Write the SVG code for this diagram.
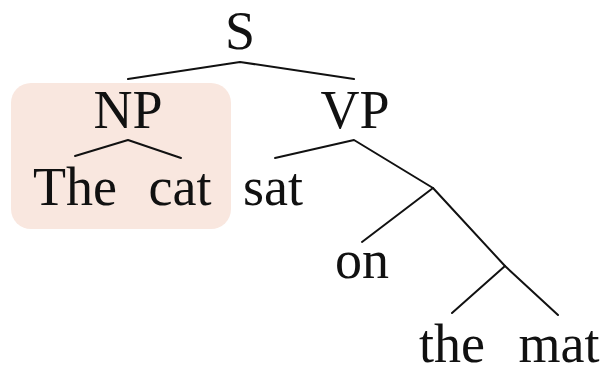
<svg xmlns="http://www.w3.org/2000/svg" width="605" height="366" viewBox="0 0 605 366">
  <style>
    .lbl { font-family: "Liberation Serif", "DejaVu Serif", serif; font-size: 54px; fill: #111; text-anchor: middle; }
    .edge { stroke: #111; stroke-width: 2; fill: none; stroke-linecap: round; stroke-linejoin: round; }
  </style>
  <rect width="605" height="366" fill="#ffffff"/>
  <!-- highlight behind the noun phrase -->
  <rect id="np-highlight" x="11" y="83" width="220" height="146" rx="20" ry="20" fill="#f9e7df"/>
  <g id="edges">
    <polyline class="edge" points="128,79 240,62 354,79"/>
    <polyline class="edge" points="75,156 128,140 181,158"/>
    <polyline class="edge" points="275,158 354,140 433,188"/>
    <polyline class="edge" points="362,242 433,188 505,266"/>
    <polyline class="edge" points="452,313 505,266 558,315"/>
  </g>
  <g id="node-S"><text class="lbl" x="240" y="49">S</text></g>
  <g id="node-NP"><text class="lbl" x="128" y="128">NP</text></g>
  <g id="node-VP"><text class="lbl" x="355" y="128">VP</text></g>
  <g id="node-The"><text class="lbl" x="75" y="205">The</text></g>
  <g id="node-cat"><text class="lbl" x="180" y="205">cat</text></g>
  <g id="node-sat"><text class="lbl" x="273" y="205">sat</text></g>
  <g id="node-on"><text class="lbl" x="362" y="278">on</text></g>
  <g id="node-the"><text class="lbl" x="452" y="362">the</text></g>
  <g id="node-mat"><text class="lbl" x="559" y="362">mat</text></g>
</svg>
